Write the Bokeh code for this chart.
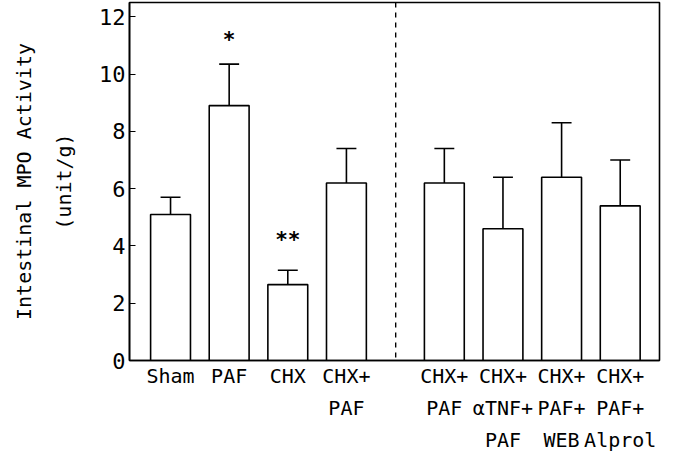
from bokeh.plotting import figure
from bokeh.models import FixedTicker, Range1d, Span
from bokeh.core.properties import value
from bokeh.embed import file_html
from bokeh.resources import INLINE

# ---- data ----
groups = ["Sham", "PAF", "CHX", "CHX+\nPAF", "CHX+\nPAF", "CHX+\n\u03b1TNF+\nPAF", "CHX+\nPAF+\nWEB", "CHX+\nPAF+\nAlprol"]
xpos = [1, 2, 3, 4, 5.67, 6.67, 7.67, 8.67]
means = [5.1, 8.9, 2.65, 6.2, 6.2, 4.6, 6.4, 5.4]
errors = [0.6, 1.45, 0.5, 1.2, 1.2, 1.8, 1.9, 1.6]
star_x = [2, 3]
star_y = [11.2, 4.2]
star_text = ["*", "**"]
divider_x = 4.84
yticks = [0, 2, 4, 6, 8, 10, 12]

FONT = "DejaVu Sans Mono"

p = figure(width=669, height=455, output_backend="svg", toolbar_location=None,
           x_range=Range1d(0.3, 9.34), y_range=Range1d(0, 12.5),
           min_border_left=129, min_border_right=10, min_border_top=2, min_border_bottom=95)

p.background_fill_color = "white"
p.border_fill_color = "white"
p.outline_line_color = "black"
p.outline_line_width = 1.6
p.grid.visible = False

# bars
p.vbar(x=xpos, width=0.68, top=means, bottom=0, fill_color="white",
       line_color="black", line_width=1.6)

# error bars (upper only)
tops = [m + e for m, e in zip(means, errors)]
p.segment(x0=xpos, y0=means, x1=xpos, y1=tops, line_color="black", line_width=1.6)
p.segment(x0=[x - 0.17 for x in xpos], y0=tops, x1=[x + 0.17 for x in xpos], y1=tops,
          line_color="black", line_width=1.6)

# significance stars
p.text(x=star_x, y=star_y, text=star_text, text_align="center", text_baseline="middle",
       text_font=value(FONT), text_font_size="21px", text_font_style="bold", text_color="black")

# dashed divider
p.add_layout(Span(location=divider_x, dimension="height", line_color="black",
                  line_dash="5 5", line_width=1.4))

# axes
p.xaxis.ticker = FixedTicker(ticks=xpos)
p.xaxis.major_label_overrides = {x: g for x, g in zip(xpos, groups)}
p.xaxis.major_tick_in = 0
p.xaxis.major_tick_out = 0
p.xaxis.minor_tick_line_color = None
p.xaxis.axis_line_width = 1.6
p.xaxis.major_label_text_font = FONT
p.xaxis.major_label_text_font_size = "20px"
p.xaxis.major_label_text_line_height = 1.35
p.xaxis.major_label_standoff = 3
p.xaxis.major_label_text_color = "black"

p.yaxis.ticker = FixedTicker(ticks=yticks)
p.yaxis.major_tick_in = 6
p.yaxis.major_tick_out = 0
p.yaxis.minor_tick_line_color = None
p.yaxis.axis_line_width = 1.6
p.yaxis.major_label_text_font = FONT
p.yaxis.major_label_text_font_size = "22px"
p.yaxis.major_label_standoff = 4
p.yaxis.major_label_text_color = "black"
p.yaxis.axis_label = "Intestinal MPO Activity\n(unit/g)"
p.yaxis.axis_label_text_font = FONT
p.yaxis.axis_label_text_font_size = "20px"
p.yaxis.axis_label_text_font_style = "normal"
p.yaxis.axis_label_text_line_height = 1.67
p.yaxis.axis_label_standoff = 20
p.yaxis.axis_label_text_color = "black"

open("out.html", "w").write(file_html(p, INLINE))
